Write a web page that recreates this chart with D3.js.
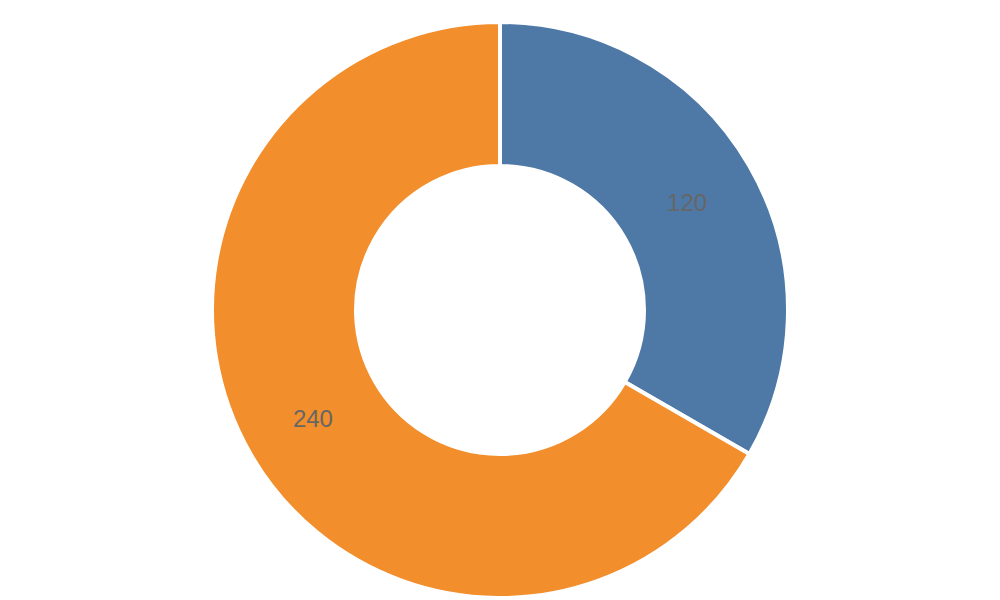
<!DOCTYPE html>
<html>
<head>
<meta charset="utf-8">
<script src="https://cdn.jsdelivr.net/npm/d3@7"></script>
<style>
html,body{margin:0;padding:0;background:#fff;}
svg{display:block;}
</style>
</head>
<body>
<svg id="chart" width="1000" height="600"></svg>
<script>
const categories = ["A", "B"];
const values = [120, 240];
const colors = ["#4e79a7", "#f28e2b"];

const svg = d3.select("#chart");
const cx = 500, cy = 310;
const outerR = 288, innerR = 144;

const pie = d3.pie().sort(null).value(d => d.value);
const data = pie(categories.map((c, i) => ({cat: c, value: values[i], color: colors[i]})));
const arc = d3.arc().innerRadius(innerR).outerRadius(outerR);

const g = svg.append("g").attr("transform", `translate(${cx},${cy})`);
g.selectAll("path").data(data).join("path")
  .attr("d", arc)
  .attr("fill", d => d.data.color)
  .attr("stroke", "#fff")
  .attr("stroke-width", 4);

g.selectAll("text").data(data).join("text")
  .attr("transform", d => `translate(${arc.centroid(d)})`)
  .attr("text-anchor", "middle")
  .attr("dominant-baseline", "central")
  .attr("font-family", "Liberation Sans, Arial, sans-serif")
  .attr("font-size", 24)
  .attr("fill", "#666")
  .text(d => d.data.value);
</script>
</body>
</html>
